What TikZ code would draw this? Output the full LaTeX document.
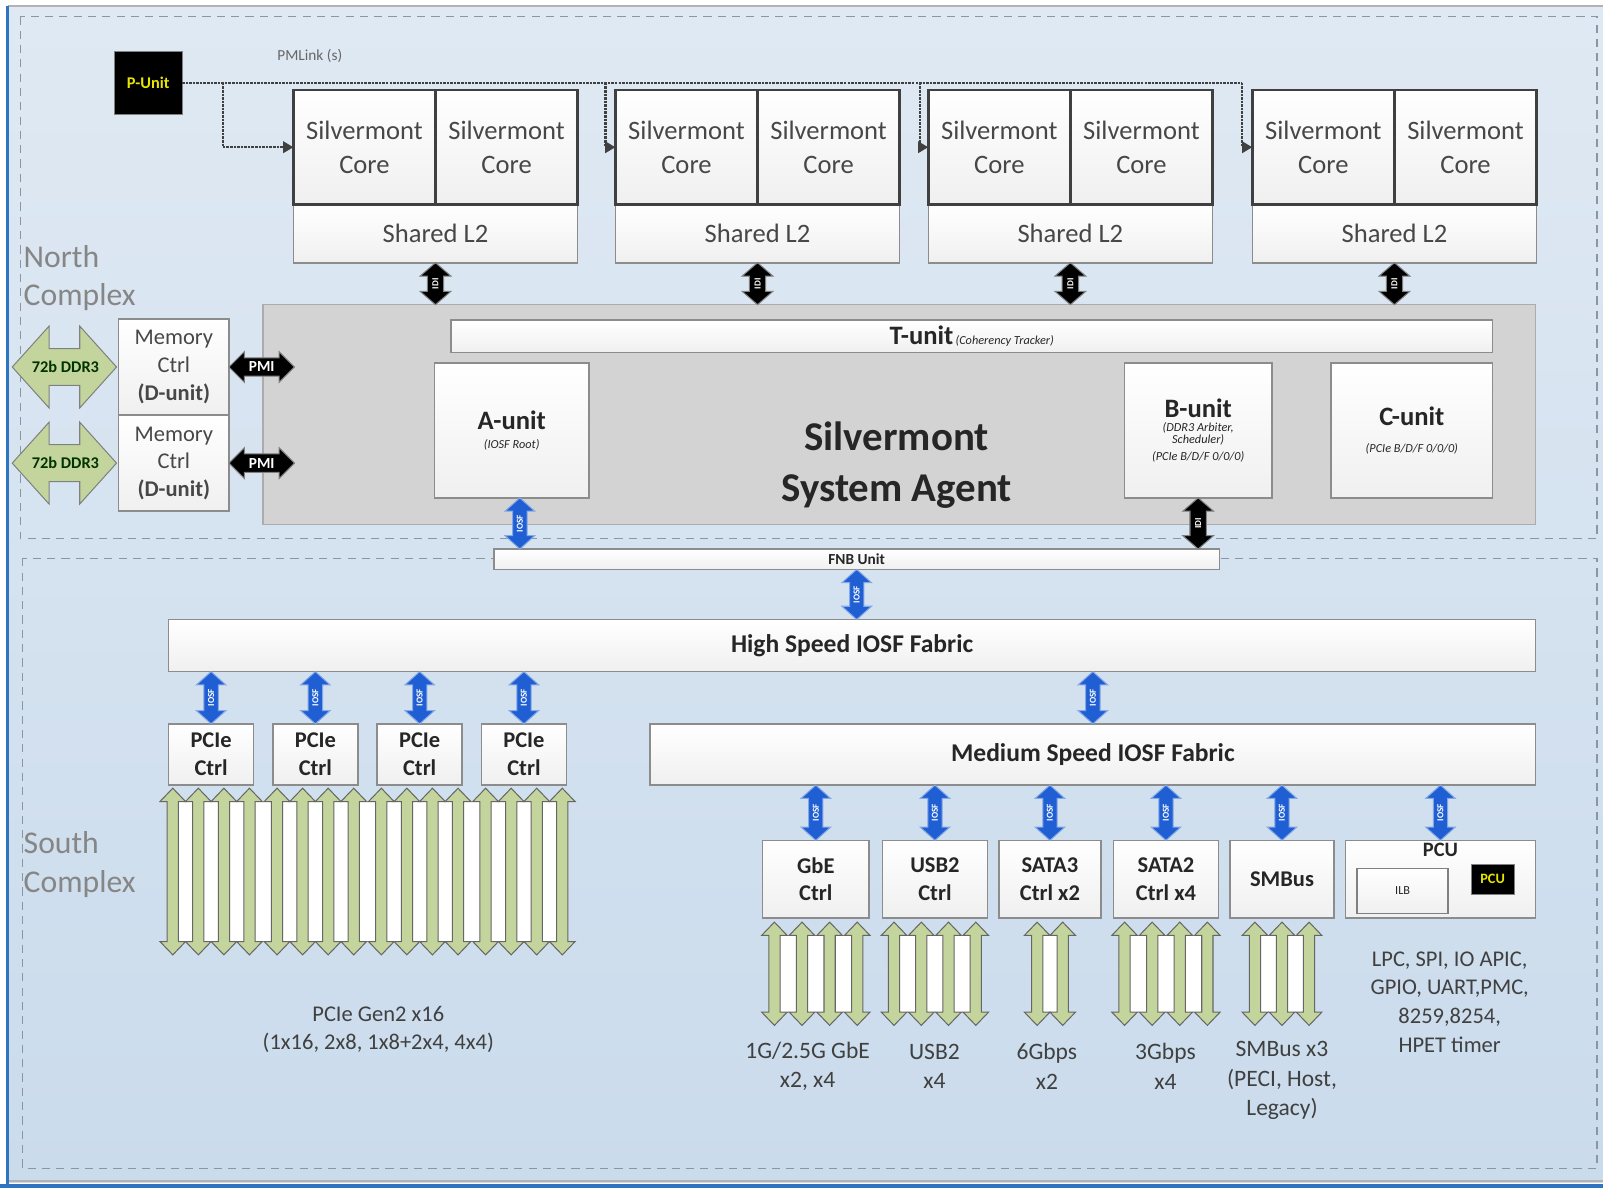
\documentclass[tikz,border=0pt]{standalone}
\usepackage{fontspec}
\setmainfont{Carlito}
\usetikzlibrary{calc,positioning,arrows.meta}
\definecolor{bgtop}{HTML}{DFE9F3}
\definecolor{bgbot}{HTML}{CADBEC}
\definecolor{frameblue}{HTML}{2E74C0}
\definecolor{dashgray}{HTML}{8A96A3}
\definecolor{boxgray}{HTML}{8C8C8C}
\definecolor{coregray}{HTML}{404040}
\definecolor{sagray}{HTML}{D3D3D3}
\definecolor{lanegreen}{HTML}{C3D59C}
\definecolor{iosfblue}{HTML}{1F5FD3}
\definecolor{labelgray}{HTML}{404040}
\definecolor{chipyellow}{HTML}{E6E600}
\newcommand{\SMALLNOTE}[1]{{\fontsize{12}{16}\selectfont\itshape #1}}
\newcommand{\UNITNAME}[1]{{\fontsize{26}{28}\selectfont\bfseries #1}}
\newcommand{\IOSFLINK}[2]{\draw[iosf link] (#1) to (#2);
    \node[link text, rotate=90] at ($(#1)!.5!(#2)$) {IOSF};}
\newcommand{\IDILINK}[2]{\draw[idi link] (#1) to (#2);
    \node[link text, rotate=90] at ($(#1)!.5!(#2)$) {IDI};}
\tikzset{
  vblock/.style n args={3}{to path={let \p1=(\tikztostart), \p2=(\tikztotarget) in
      (\x1,\y1) -- (\x1+#2pt,\y1-#3pt) -- (\x1+#1pt,\y1-#3pt) -- (\x1+#1pt,\y2+#3pt)
      -- (\x1+#2pt,\y2+#3pt) -- (\x1,\y2) -- (\x1-#2pt,\y2+#3pt) -- (\x1-#1pt,\y2+#3pt)
      -- (\x1-#1pt,\y1-#3pt) -- (\x1-#2pt,\y1-#3pt) -- cycle}},
  hblock/.style n args={3}{to path={let \p1=(\tikztostart), \p2=(\tikztotarget) in
      (\x1,\y1) -- (\x1+#3pt,\y1+#2pt) -- (\x1+#3pt,\y1+#1pt) -- (\x2-#3pt,\y1+#1pt)
      -- (\x2-#3pt,\y1+#2pt) -- (\x2,\y1) -- (\x2-#3pt,\y1-#2pt) -- (\x2-#3pt,\y1-#1pt)
      -- (\x1+#3pt,\y1-#1pt) -- (\x1+#3pt,\y1-#2pt) -- cycle}},
  unit box/.style={draw=boxgray, line width=1.5pt, top color=white, bottom color=gray!12,
      text=black!85, align=center, inner sep=0pt, outer sep=0pt},
  core box/.style={unit box, draw=coregray, line width=2.5pt, minimum width=139pt,
      minimum height=112pt, text=black!72, font=\fontsize{26}{33}\selectfont},
  shared box/.style={unit box, minimum width=278pt, minimum height=57pt,
      text=black!72, font=\fontsize{26}{30}\selectfont},
  mem box/.style={unit box, minimum width=108pt, minimum height=94pt,
      text=black!72, font=\fontsize{22}{27}\selectfont},
  io box/.style={unit box, minimum height=76pt, font=\fontsize{22}{27}\selectfont\bfseries},
  pcie box/.style={unit box, minimum width=83pt, minimum height=60pt,
      font=\fontsize{22}{27}\selectfont\bfseries},
  fabric box/.style={unit box, font=\fontsize{25}{28}\selectfont\bfseries},
  sa box/.style={draw=gray!65, line width=1.5pt, fill=sagray, inner sep=0pt, outer sep=0pt},
  chip/.style={draw=gray, fill=black, text=chipyellow, inner sep=0pt, outer sep=0pt},
  zone/.style={draw=dashgray, line width=1.3pt, dash pattern=on 8pt off 6pt},
  complex label/.style={text=gray!95, align=left, inner sep=0pt, font=\fontsize{31}{38}\selectfont},
  bus label/.style={text=labelgray, align=center, inner sep=0pt, font=\fontsize{23}{29}\selectfont},
  pml/.style={draw=black!75, line width=2.5pt, densely dotted},
  iosf link/.style={vblock={7}{14.5}{13}, fill=iosfblue, draw=iosfblue!55!white, line width=1pt},
  idi link/.style={vblock={8}{15}{13}, fill=black, draw=gray, line width=1pt},
  pmi link/.style={hblock={9}{15}{15}, fill=black, draw=gray, line width=1pt},
  ddr link/.style={hblock={18}{40}{36}, fill=lanegreen, draw=gray, line width=1pt},
  lane/.style={vblock={5.5}{12.5}{13}, fill=lanegreen, draw=gray!80!black, line width=1pt},
  lane back/.style={fill=white, draw=gray!70, line width=1pt},
  link text/.style={text=white, inner sep=0pt, font=\fontsize{9}{10}\selectfont\bfseries},
}
\begin{document}
\begin{tikzpicture}[x=1pt,y=-1pt]
        \useasboundingbox (0,0) rectangle (1568,1162);
        \fill[white] (0,0) rectangle (1568,1162);
        \shade[top color=bgtop, bottom color=bgbot] (8,6) rectangle (1568,1157);
        \draw[gray!60, line width=1.5pt] (8,6) -- (1568,6);
        \draw[gray!60, line width=1.5pt] (8,1155) -- (1568,1155);
        \fill[frameblue] (0,1158.5) rectangle (1568,1162);
        \fill[frameblue] (5.5,6) rectangle (9,1162);
        \draw[zone] (20,16) rectangle (1562,527);
        \draw[zone] (22,546) rectangle (1562,1143);
        \node[complex label, anchor=west] (north) at (23,272) {North\\Complex};
        \node[complex label, anchor=west] (south) at (23,846) {South\\Complex};

        \node[chip, minimum width=66pt, minimum height=62pt,
            font=\fontsize{16}{18}\selectfont\bfseries] (punit) at (145,81) {P-Unit};
        \node[text=black!60, font=\fontsize{15}{17}\selectfont] (pmlink) at (303,55) {PMLink (s)};

        \foreach \g/\x in {1/287,2/602,3/908,4/1225}{
            \node[shared box, anchor=north west] (l2\g) at (\x,200) {Shared L2};
            \node[core box, anchor=north west] (coreL\g) at (\x,88) {Silvermont\\Core};
            \node[core box, right=0pt of coreL\g] (coreR\g) {Silvermont\\Core};
        }
        \coordinate (tap1) at (218,81);
        \coordinate (tap2) at (592,81);
        \coordinate (tap3) at (900,81);
        \coordinate (tap4) at (1215,81);
        \draw[pml] (punit.east) -- (tap4);
        \foreach \g in {1,...,4}{
            \draw[pml, -{Triangle[length=10pt,width=11pt]}] (tap\g) |- (coreL\g.west);
        }

        \node[sa box, anchor=north west, minimum width=1245pt, minimum height=215pt] (sa) at (257,298) {};
        \node[unit box, minimum width=1019pt, minimum height=32pt] (tunit) at (950.5,329)
            {\UNITNAME{T-unit} \SMALLNOTE{(Coherency Tracker)}};
        \node[unit box, minimum width=151pt, minimum height=132pt] (aunit) at (500.5,421)
            {\UNITNAME{A-unit}\\[6pt]\SMALLNOTE{(IOSF Root)}};
        \node[unit box, minimum width=144pt, minimum height=132pt] (bunit) at (1172,421)
            {\UNITNAME{B-unit}\\[2pt]\SMALLNOTE{(DDR3 Arbiter,}\\\SMALLNOTE{Scheduler)}\\[4pt]\SMALLNOTE{(PCIe B/D/F 0/0/0)}};
        \node[unit box, minimum width=158pt, minimum height=132pt] (cunit) at (1381,421)
            {\UNITNAME{C-unit}\\[14pt]\SMALLNOTE{(PCIe B/D/F 0/0/0)}};
        \node[align=center, text=black!85, font=\fontsize{40}{50}\selectfont\bfseries] (satitle)
            at (877,455) {Silvermont\\System Agent};
        \foreach \g in {1,...,4}{
            \IDILINK{l2\g.south}{l2\g.south |- sa.north}
        }

        \node[mem box, anchor=north west] (mem1) at (116,312) {Memory\\Ctrl\\\textbf{(D-unit)}};
        \node[mem box, below=0pt of mem1] (mem2) {Memory\\Ctrl\\\textbf{(D-unit)}};
        \foreach \m in {1,2}{
            \coordinate (ddr\m) at ($(mem\m.west)+(-104,0)$);
            \draw[ddr link] (ddr\m) to ($(mem\m.west)+(-2,0)$);
            \node[text=black!80!green, font=\fontsize{16}{18}\selectfont\bfseries]
                at ($(ddr\m)!.5!(mem\m.west)$) {72b DDR3};
            \draw[pmi link] (mem\m.east) to ($(mem\m.east)+(64,0)$);
            \node[link text, font=\fontsize{15}{16}\selectfont\bfseries]
                at ($(mem\m.east)+(32,0)$) {PMI};
        }

        \node[unit box, minimum width=710pt, minimum height=20pt,
            font=\fontsize{15}{16}\selectfont\bfseries] (fnb) at (838,547) {FNB Unit};
        \IOSFLINK{[xshift=8pt]aunit.south}{[xshift=8pt]aunit.south |- fnb.north}
        \IDILINK{bunit.south}{bunit.south |- fnb.north}

        \node[fabric box, minimum width=1337pt, minimum height=51pt] (hsf) at (833.5,631.5) {High Speed IOSF Fabric};
        \IOSFLINK{fnb.south}{fnb.south |- hsf.north}
        \node[fabric box, minimum width=866pt, minimum height=60pt] (msf) at (1069,738) {Medium Speed IOSF Fabric};
        \IOSFLINK{hsf.south -| msf.north}{msf.north}

        \foreach \i in {1,...,4}{
            \node[pcie box] (pcie\i) at ({206.5+102*(\i-1)},738) {PCIe\\Ctrl};
        }
        \draw[lane back] ($(pcie1.south)+(-37.5,16)$) rectangle ($(pcie4.south)+(37.5,153)$);
        \foreach \i in {1,...,4}{
            \IOSFLINK{hsf.south -| pcie\i.north}{pcie\i.north}
            \foreach \dx in {-37.5,-12.5,12.5,37.5}{
                \draw[lane] ($(pcie\i.south)+(\dx,3)$) to ($(pcie\i.south)+(\dx,166)$);
            }
        }

        \node[io box, minimum width=104pt] (gbe) at (798,860) {GbE\\Ctrl};
        \node[io box, minimum width=103pt] (usb) at (914.5,860) {USB2\\Ctrl};
        \node[io box, minimum width=100pt] (sata3) at (1027,860) {SATA3\\Ctrl x2};
        \node[io box, minimum width=103pt] (sata2) at (1140.5,860) {SATA2\\Ctrl x4};
        \node[io box, minimum width=102pt] (smbus) at (1254,860) {SMBus};
        \node[io box, minimum width=186pt] (pcu) at (1409,860) {};
        \node[text=black!85, inner sep=0pt, font=\fontsize{20}{22}\selectfont\bfseries] (pcutitle) at (1409,831) {PCU};
        \node[unit box, draw=gray, minimum width=89pt, minimum height=44pt,
            font=\fontsize{12}{14}\selectfont] (ilb) at (1372,871.5) {ILB};
        \node[chip, minimum width=42pt, minimum height=30pt,
            font=\fontsize{14}{16}\selectfont\bfseries] (pcuchip) at (1460,860) {PCU};
        \foreach \b in {gbe,usb,sata3,sata2,smbus,pcu}{
            \IOSFLINK{msf.south -| \b.north}{\b.north}
        }
        \foreach \b/\w/\offs in {gbe/40.5/{-40.5,-13.5,13.5,40.5},usb/40/{-40,-13.3,13.3,40},
                sata3/12.5/{-12.5,12.5},sata2/40.5/{-40.5,-13.5,13.5,40.5},smbus/26.5/{-26.5,0,26.5}}{
            \draw[lane back] ($(\b.south)+(-\w,17)$) rectangle ($(\b.south)+(\w,92)$);
            \foreach \dx in \offs{
                \draw[lane] ($(\b.south)+(\dx,4)$) to ($(\b.south)+(\dx,105)$);
            }
        }

        \node[bus label, font=\fontsize{22}{27}\selectfont] (pcielanes) at (370,1007)
            {PCIe Gen2 x16\\(1x16, 2x8, 1x8+2x4, 4x4)};
        \node[bus label] (gbelanes) at (790,1043) {1G/2.5G GbE\\x2, x4};
        \node[bus label] (usblanes) at (914,1043) {USB2\\x4};
        \node[bus label] (sata3lanes) at (1024,1043) {6Gbps\\x2};
        \node[bus label] (sata2lanes) at (1140,1043) {3Gbps\\x4};
        \node[bus label] (smbuslanes) at (1254,1057) {SMBus x3\\(PECI, Host,\\Legacy)};
        \node[bus label, font=\fontsize{22}{28}\selectfont] (pculist) at (1418,980)
            {LPC, SPI, IO APIC,\\GPIO, UART,PMC,\\8259,8254,\\HPET timer};
\end{tikzpicture}
\end{document}
